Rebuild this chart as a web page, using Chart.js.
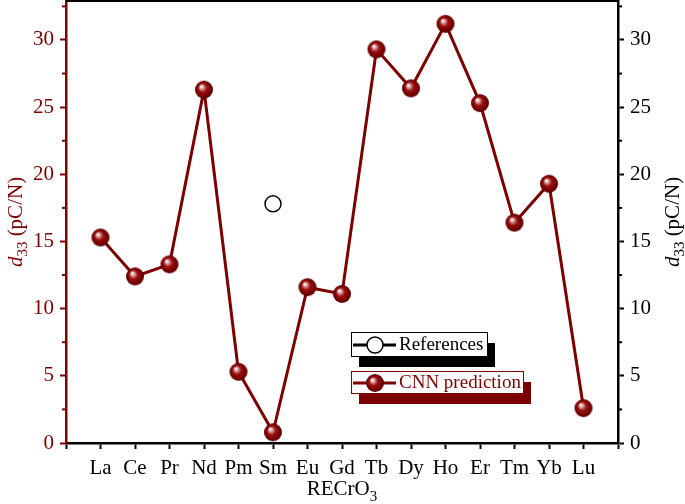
<!DOCTYPE html>
<html>
<head>
<meta charset="utf-8">
<script src="https://cdn.jsdelivr.net/npm/chart.js@4/dist/chart.umd.min.js"></script>
<style>
  html, body { margin: 0; padding: 0; background: #fff; }
  #wrap { width: 685px; height: 504px; }
</style>
</head>
<body>
<div id="wrap"><canvas id="chart" width="685" height="504"></canvas></div>
<script>
// categories (rare earth elements) and d33 values
const elements = ['La', 'Ce', 'Pr', 'Nd', 'Pm', 'Sm', 'Eu', 'Gd', 'Tb', 'Dy', 'Ho', 'Er', 'Tm', 'Yb', 'Lu']
const cnnPrediction = [15.3, 12.4, 13.3, 26.3, 5.3, 0.8, 11.6, 11.1, 29.3, 26.4, 31.2, 25.3, 16.4, 19.3, 2.6]
const refElements = ['Sm']
const refValues = [17.8]
const yTicks = [0, 5, 10, 15, 20, 25, 30]

const MAROON = '#7d0000'
const FONT = '"Liberation Serif", "Times New Roman", serif'

// shaded ball used as point marker
const makeBall = (r) => {
    const c = document.createElement('canvas')
    const s = Math.ceil(r * 2 + 2)
    c.width = s
    c.height = s
    const g = c.getContext('2d')
    const cx = s / 2, cy = s / 2
    const grad = g.createRadialGradient(cx - r * 0.3, cy - r * 0.35, 0.5, cx, cy, r)
    grad.addColorStop(0, '#ffffff')
    grad.addColorStop(0.18, '#d89a9a')
    grad.addColorStop(0.45, '#9a1010')
    grad.addColorStop(0.8, '#780000')
    grad.addColorStop(1, '#500000')
    g.fillStyle = grad
    g.beginPath()
    g.arc(cx, cy, r, 0, Math.PI * 2)
    g.fill()
    return c
}
const ball = makeBall(9)

const cnnData = cnnPrediction.map((v, i) => ({ x: i, y: v }))
const refData = refValues.map((v, i) => ({ x: elements.indexOf(refElements[i]), y: v }))

// axis title with italic d and subscript 33
const drawD33 = (ctx, x, y, color) => {
    ctx.save()
    ctx.translate(x, y)
    ctx.rotate(-Math.PI / 2)
    ctx.fillStyle = color
    ctx.textBaseline = 'alphabetic'
    ctx.font = 'italic 21px ' + FONT
    const w1 = ctx.measureText('d').width
    ctx.font = '15px ' + FONT
    const w2 = ctx.measureText('33').width
    ctx.font = '21px ' + FONT
    const w3 = ctx.measureText(' (pC/N)').width
    let px = -(w1 + w2 + w3) / 2
    ctx.textAlign = 'left'
    ctx.font = 'italic 21px ' + FONT
    ctx.fillText('d', px, 7)
    px += w1
    ctx.font = '15px ' + FONT
    ctx.fillText('33', px, 12)
    px += w2
    ctx.font = '21px ' + FONT
    ctx.fillText(' (pC/N)', px, 7)
    ctx.restore()
}

// no label overhang padding, the plot box is fixed
const noPad = (s) => {
    s.paddingTop = 0
    s.paddingBottom = 0
    s.paddingLeft = 0
    s.paddingRight = 0
    if (s._margins) {
        s._margins.top = 0
        s._margins.bottom = 0
    }
}

const decor = {
    id: 'decor',
    afterDraw(chart) {
        const ctx = chart.ctx
        const a = chart.chartArea
        const ys = chart.scales.y
        ctx.save()
        // top frame line
        ctx.strokeStyle = '#000'
        ctx.lineWidth = 2
        ctx.beginPath()
        ctx.moveTo(a.left, a.top)
        ctx.lineTo(a.right + 1, a.top)
        ctx.stroke()
        // minor ticks
        for (let v = 2.5; v < 33; v += 5) {
            const py = ys.getPixelForValue(v)
            ctx.strokeStyle = MAROON
            ctx.beginPath()
            ctx.moveTo(a.left - 4, py)
            ctx.lineTo(a.left, py)
            ctx.stroke()
            ctx.strokeStyle = '#000'
            ctx.beginPath()
            ctx.moveTo(a.right, py)
            ctx.lineTo(a.right + 4, py)
            ctx.stroke()
        }
        // axis titles
        const midY = (a.top + a.bottom) / 2
        drawD33(ctx, 15, midY, MAROON)
        drawD33(ctx, 672, midY, '#000')

        ctx.fillStyle = '#000'
        ctx.textBaseline = 'alphabetic'
        ctx.font = '21px ' + FONT
        const t1 = 'RECrO'
        const w1 = ctx.measureText(t1).width
        ctx.font = '15px ' + FONT
        const w2 = ctx.measureText('3').width
        let px = (a.left + a.right) / 2 - (w1 + w2) / 2
        ctx.font = '21px ' + FONT
        ctx.textAlign = 'left'
        ctx.fillText(t1, px, 495)
        ctx.font = '15px ' + FONT
        ctx.fillText('3', px + w1, 501)

        // legend boxes with offset shadows
        const box = (x, y, w, h, color, text, filled) => {
            ctx.fillStyle = color
            ctx.fillRect(x + 8, y + 11, w, h)
            ctx.fillStyle = '#fff'
            ctx.fillRect(x, y, w, h)
            ctx.strokeStyle = color
            ctx.lineWidth = 1
            ctx.strokeRect(x + 0.5, y + 0.5, w, h)
            const cy = y + h / 2 + 1
            ctx.lineWidth = 3
            ctx.beginPath()
            ctx.moveTo(x + 2, cy)
            ctx.lineTo(x + 45, cy)
            ctx.stroke()
            if (filled) {
                ctx.drawImage(ball, x + 24 - ball.width / 2, cy - ball.height / 2)
            } else {
                ctx.fillStyle = '#fff'
                ctx.lineWidth = 1.5
                ctx.beginPath()
                ctx.arc(x + 24, cy, 8, 0, Math.PI * 2)
                ctx.fill()
                ctx.stroke()
            }
            ctx.fillStyle = color
            ctx.font = '19px ' + FONT
            ctx.textBaseline = 'middle'
            ctx.fillText(text, x + 48, cy)
        }
        box(351, 332, 136, 24, '#000', 'References', false)
        box(351, 371, 172, 22, MAROON, 'CNN prediction', true)
        ctx.restore()
    }
}

const tickFont = { family: FONT, size: 21 }

const config = {
    type: 'scatter',
    data: {
        datasets: [{
            label: 'CNN prediction',
            data: cnnData,
            showLine: true,
            borderColor: MAROON,
            borderWidth: 3,
            pointStyle: ball,
            pointRadius: 9,
            yAxisID: 'y'
        }, {
            label: 'References',
            data: refData,
            showLine: false,
            pointStyle: 'circle',
            pointRadius: 8,
            backgroundColor: '#fff',
            borderColor: '#000',
            borderWidth: 1.5,
            yAxisID: 'y'
        }]
    },
    options: {
        responsive: false,
        animation: false,
        layout: { padding: { top: 1, left: 0, right: 0, bottom: 0 }, autoPadding: false },
        plugins: { legend: { display: false }, tooltip: { enabled: false } },
        scales: {
            x: {
                type: 'linear',
                position: 'bottom',
                min: -1,
                max: 15,
                afterFit: (s) => { s.height = 61; noPad(s) },
                border: { color: '#000', width: 2.5 },
                grid: { drawOnChartArea: false, tickLength: 6, tickColor: '#000', tickWidth: 2 },
                ticks: {
                    stepSize: 1,
                    autoSkip: false,
                    maxRotation: 0,
                    padding: 7,
                    color: '#000',
                    font: tickFont,
                    callback: (v) => elements[v] ?? ''
                }
            },
            y: {
                position: 'left',
                min: 0,
                max: 32.9,
                afterFit: (s) => { s.width = 66; noPad(s) },
                afterBuildTicks: (s) => { s.ticks = yTicks.map(v => ({ value: v })) },
                border: { color: MAROON, width: 2.5 },
                grid: { drawOnChartArea: false, tickLength: 6, tickColor: MAROON, tickWidth: 2 },
                ticks: { padding: 6, color: MAROON, font: tickFont }
            },
            y2: {
                position: 'right',
                min: 0,
                max: 32.9,
                afterFit: (s) => { s.width = 67; noPad(s) },
                afterBuildTicks: (s) => { s.ticks = yTicks.map(v => ({ value: v })) },
                border: { color: '#000', width: 2.5 },
                grid: { drawOnChartArea: false, tickLength: 6, tickColor: '#000', tickWidth: 2 },
                ticks: { padding: 6, color: '#000', font: tickFont }
            }
        }
    },
    plugins: [decor]
}

const ctx = document.querySelector('#chart').getContext('2d')
const myChart = new Chart(ctx, config)
</script>
</body>
</html>
